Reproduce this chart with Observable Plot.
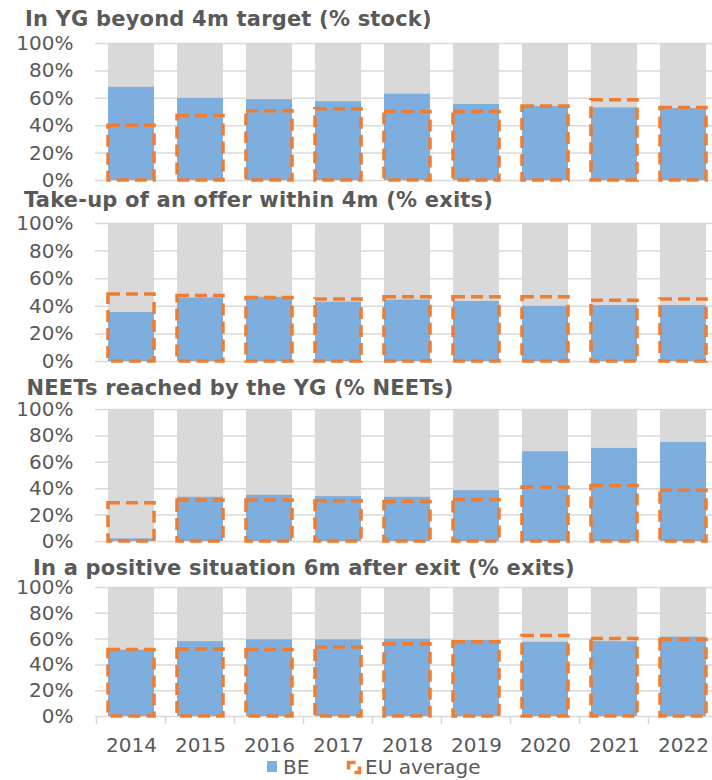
<!DOCTYPE html>
<html><head><meta charset="utf-8">
<script src="https://cdn.jsdelivr.net/npm/d3@7"></script>
<script src="https://cdn.jsdelivr.net/npm/@observablehq/plot@0.6"></script>
<style>
html,body{margin:0;padding:0;background:#fff;overflow:hidden;}
body{width:712px;height:780px;position:relative;font-family:"DejaVu Sans",Verdana,sans-serif;color:#595959;}
.title{position:absolute;font-weight:bold;font-size:21px;letter-spacing:0.2px;white-space:nowrap;line-height:21px;}
.panel{position:absolute;left:0;}
</style></head><body>
<script>
const years = ["2014","2015","2016","2017","2018","2019","2020","2021","2022"];
const yTicks = [0, 20, 40, 60, 80, 100];

const titleBeyond4m = "In YG beyond 4m target (% stock)";
const beBeyond4m = [68, 60, 59, 57.5, 63, 55.5, 54, 53, 52.5];
const euBeyond4m = [40, 47, 50.5, 52, 50, 50, 54, 58.5, 53];

const titleTakeUp = "Take-up of an offer within 4m (% exits)";
const beTakeUp = [35.5, 46, 46.5, 43, 44.5, 43.5, 40, 40.5, 40.5];
const euTakeUp = [48.5, 47.5, 46, 45, 46.5, 46.5, 46.5, 44, 45];

const titleNeets = "NEETs reached by the YG (% NEETs)";
const beNeets = [2, 33.5, 35, 34, 33.5, 38.5, 68, 70.5, 75];
const euNeets = [29, 31, 31, 30.5, 30, 31.5, 41, 42, 38.5];

const titlePositive = "In a positive situation 6m after exit (% exits)";
const bePositive = [51.5, 58, 59.5, 59.5, 60, 59, 57.5, 58, 61.5];
const euPositive = [51.5, 52, 51.5, 53.5, 56, 57.5, 62.5, 60, 59.5];

const legendLabels = ["BE", "EU average"];

const COL_GREY = "#d9d9d9", COL_BLUE = "#7eaedd", COL_ORANGE = "#ed7d31", COL_TEXT = "#595959";

function addTitle(text, left, top) {
  const d = document.createElement("div");
  d.className = "title";
  d.style.left = left + "px";
  d.style.top = top + "px";
  d.textContent = text;
  document.body.appendChild(d);
}

function addPanel(be, eu, top, plotH, showX) {
  const rows = years.map((y, i) => ({year: y, be: be[i], eu: eu[i], full: 100}));
  const marks = [
    Plot.ruleY(yTicks, {stroke: COL_GREY, strokeWidth: 1.5}),
    Plot.barY(rows, {x: "year", y: "full", fill: COL_GREY}),
    Plot.barY(rows, {x: "year", y: "be", fill: COL_BLUE}),
    Plot.barY(rows, {x: "year", y: "eu", fill: "none", stroke: COL_ORANGE, strokeWidth: 3.5, strokeDasharray: "12,6"}),
    Plot.axisY(yTicks, {tickFormat: d => d + "%", tickSize: 0, tickPadding: 22, fontSize: 20, label: null})
  ];
  if (showX) marks.push(Plot.axisX({tickSize: 0, tickPadding: 21, fontSize: 20, label: null}));
  const mb = showX ? 45 : 10;
  const chart = Plot.plot({
    width: 712,
    height: plotH + 10 + mb,
    marginLeft: 95, marginRight: 0, marginTop: 10, marginBottom: mb,
    x: {domain: years, range: [97, 718], paddingInner: 0.33, paddingOuter: 0.165, axis: null, label: null},
    y: {domain: [0, 100], axis: null, label: null},
    style: {fontFamily: '"DejaVu Sans", Verdana, sans-serif', fontSize: "20px", color: COL_TEXT, background: "transparent", overflow: "visible"},
    marks
  });
  if (showX) {
    const sx = chart.scale("x");
    const step = sx.step ?? sx.bandwidth / (1 - 0.33);
    const gap = (step - sx.bandwidth) / 2;
    const y0 = chart.scale("y").apply(0);
    const svg = d3.select(chart);
    years.forEach(yr => {
      const xe = sx.apply(yr) - gap;
      svg.append("line").attr("x1", xe).attr("x2", xe).attr("y1", y0).attr("y2", y0 + 8)
        .attr("stroke", COL_GREY).attr("stroke-width", 1.5);
    });
  }
  const wrap = document.createElement("div");
  wrap.className = "panel";
  wrap.style.top = (top - 10) + "px";
  wrap.appendChild(chart);
  document.body.appendChild(wrap);
}

addTitle(titleBeyond4m, 25, 9);
addPanel(beBeyond4m, euBeyond4m, 43, 137, false);
addTitle(titleTakeUp, 24, 189.5);
addPanel(beTakeUp, euTakeUp, 223, 138, false);
addTitle(titleNeets, 26.5, 378);
addPanel(beNeets, euNeets, 409, 132, false);
addTitle(titlePositive, 33, 558);
addPanel(bePositive, euPositive, 587, 129, true);

// legend
const leg = d3.select(document.body).append("svg")
  .attr("width", 712).attr("height", 31)
  .style("position", "absolute").style("left", "0px").style("top", "749px").style("overflow", "visible");
leg.append("rect").attr("x", 267).attr("y", 12).attr("width", 10).attr("height", 11).attr("fill", COL_BLUE);
leg.append("text").attr("x", 283).attr("y", 25).attr("fill", COL_TEXT)
  .style("font-family", '"DejaVu Sans", Verdana, sans-serif').style("font-size", "20px").text(legendLabels[0]);
leg.append("rect").attr("x", 348.5).attr("y", 13.5).attr("width", 11).attr("height", 10).attr("fill", "none")
  .attr("stroke", COL_ORANGE).attr("stroke-width", 3.5).attr("stroke-dasharray", "7 8 11 9 7");
leg.append("text").attr("x", 365).attr("y", 25).attr("fill", COL_TEXT)
  .style("font-family", '"DejaVu Sans", Verdana, sans-serif').style("font-size", "20px").text(legendLabels[1]);
</script>
</body></html>
